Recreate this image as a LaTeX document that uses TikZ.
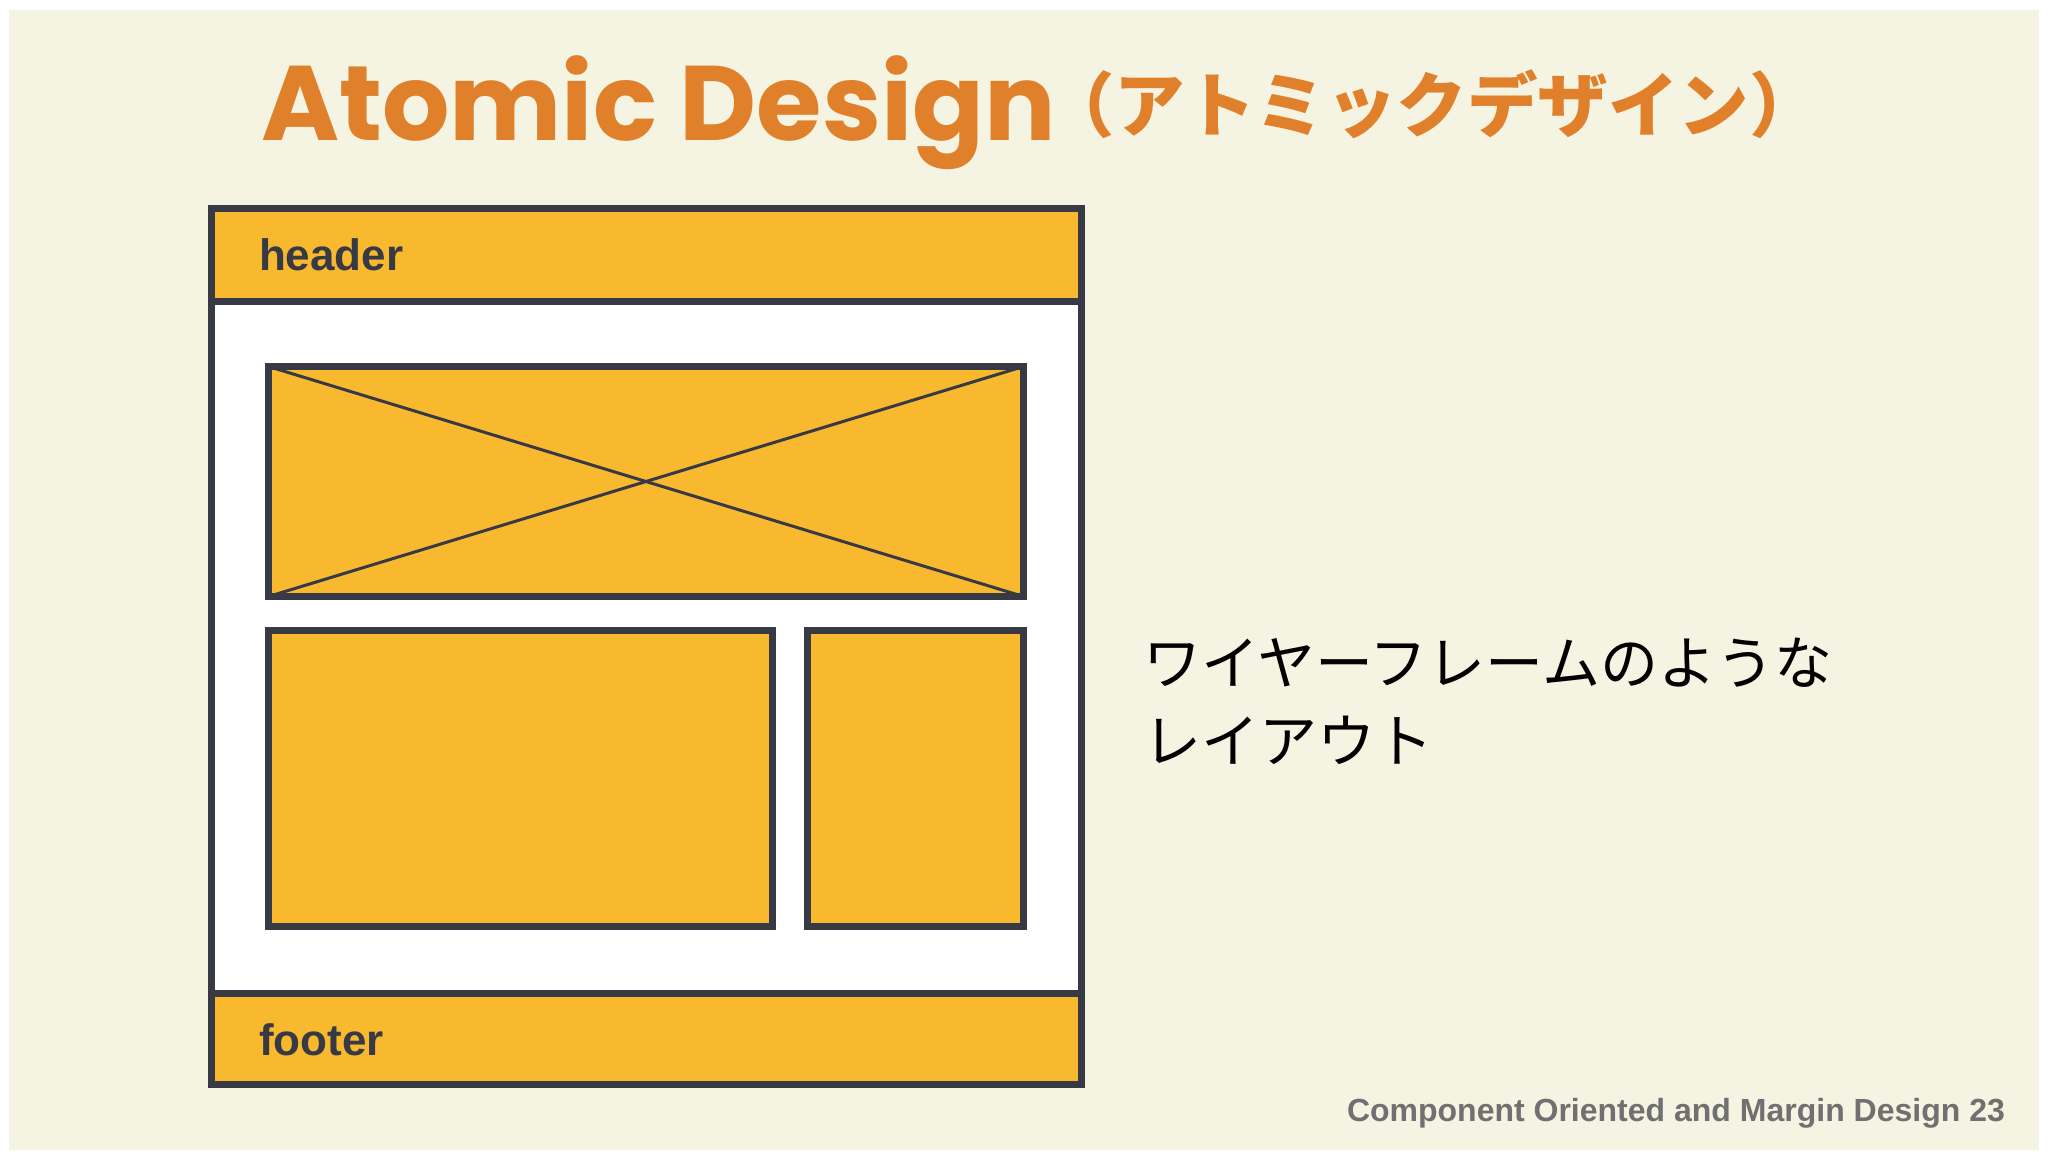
\documentclass[tikz,border=0pt]{standalone}
\usepackage{fontspec}
\setmainfont{Liberation Sans}
\newfontfamily\titlefont{Poppins}
\newfontfamily\cjk{Noto Sans CJK JP}
\newfontfamily\footfont{Liberation Sans}
\definecolor{cream}{HTML}{F5F3E1}
\definecolor{linec}{HTML}{373944}
\definecolor{yel}{HTML}{F8B92E}
\definecolor{orng}{HTML}{E0802A}
\definecolor{grayt}{HTML}{707070}
\tikzset{
  panel/.style={draw=linec, line width=7pt, fill=yel, inner sep=0pt, outer sep=0pt, anchor=north west},
  framebox/.style={draw=linec, line width=7pt, fill=white, inner sep=0pt, outer sep=0pt, anchor=north west},
  cross/.style={draw=linec, line width=3pt},
  lbl/.style={inner sep=0pt, outer sep=0pt, anchor=base west}
}
\begin{document}
\begin{tikzpicture}[x=1pt,y=-1pt]
\useasboundingbox (0,0) rectangle (2048,1160);
\fill[white] (0,0) rectangle (2048,1160);
\fill[cream] (9,10) rectangle (2039,1150);
% outer frame
\node[framebox, minimum width=869.5pt, minimum height=875.5pt] (frame) at (211.5,208.5) {};
\node[panel, minimum width=869.5pt, minimum height=93pt] (header) at (211.5,208.5) {};
\node[panel, minimum width=869.5pt, minimum height=91pt] (footer) at (211.5,993) {};
% content boxes
\node[panel, minimum width=755pt, minimum height=230pt] (img) at (268.5,366.5) {};
\draw[cross] (img.north west) -- (img.south east);
\draw[cross] (img.north east) -- (img.south west);
\node[panel, minimum width=504pt, minimum height=296pt] (main) at (268.5,630.5) {};
\node[panel, minimum width=216pt, minimum height=296pt] (side) at (807.5,630.5) {};
% labels
\node[lbl, text=linec, font=\bfseries\fontsize{44}{50}\selectfont] (htext) at (259,270) {header};
\node[lbl, text=linec, font=\bfseries\fontsize{44}{50}\selectfont] (ftext) at (259,1055) {footer};
% title
\node[lbl, text=orng, font=\titlefont\bfseries\fontsize{106}{116}\selectfont] (title) at (261,140) {Atomic Design};
\node[lbl, text=orng, font=\cjk\bfseries\fontsize{70.5}{76}\selectfont] (titlejp) at (1044,131) {（アトミックデザイン）};
% right text
\node[lbl, text=black, font=\cjk\fontsize{58}{77}\selectfont] (desc1) at (1143,684) {ワイヤーフレームのような};
\node[lbl, text=black, font=\cjk\fontsize{58}{77}\selectfont] (desc2) at (1143,762) {レイアウト};
% footer note
\node[lbl, text=grayt, font=\footfont\bfseries\fontsize{32}{36}\selectfont] (note) at (1347,1121) {Component Oriented and Margin Design 23};
\end{tikzpicture}
\end{document}
